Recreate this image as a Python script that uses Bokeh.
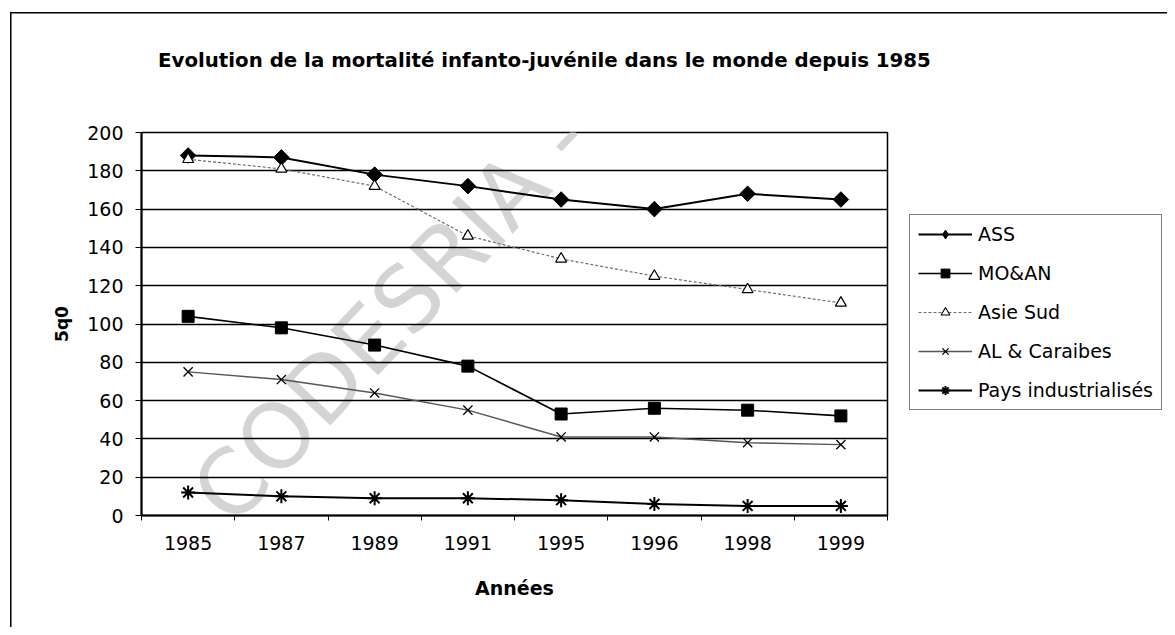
from bokeh.plotting import figure
from bokeh.models import Range1d, FixedTicker, Legend, LegendItem, Label, Div
from bokeh.layouts import row, column
from bokeh.embed import file_html
from bokeh.resources import INLINE

# ---- data ----
years = ["1985", "1987", "1989", "1991", "1995", "1996", "1998", "1999"]
ass = [188, 187, 178, 172, 165, 160, 168, 165]
mo_an = [104, 98, 89, 78, 53, 56, 55, 52]
asie_sud = [186, 181, 172, 146, 134, 125, 118, 111]
al_caraibes = [75, 71, 64, 55, 41, 41, 38, 37]
pays_ind = [12, 10, 9, 9, 8, 6, 5, 5]
y_ticks = list(range(0, 201, 20))
series_names = ["ASS", "MO&AN", "Asie Sud", "AL & Caraibes", "Pays industrialisés"]

title_text = "Evolution de la mortalité infanto-juvénile dans le monde depuis 1985"
FONT = "DejaVu Sans"

n = len(years)
xs = [i + 0.5 for i in range(n)]

TOTAL_W, TOTAL_H = 1167, 627
TOP_H = 112
MAIN_W = 889
MAIN_H = TOTAL_H - TOP_H

# ---- title block ----
title_div = Div(
    text=('<div style="position:absolute; left:158px; top:51px; white-space:nowrap; '
          "font-family:'DejaVu Sans'; font-weight:bold; font-size:19.8px; line-height:1; "
          'color:#000;">' + title_text + "</div>"),
    width=TOTAL_W, height=TOP_H, margin=0, styles={"position": "relative"})

# ---- main chart ----
p = figure(width=MAIN_W, height=MAIN_H, x_range=Range1d(0, n), y_range=Range1d(0, 200),
           output_backend="svg", toolbar_location=None,
           min_border_left=141, min_border_right=2, min_border_top=20, min_border_bottom=112,
           background_fill_color="white", border_fill_color=None)

p.xgrid.visible = False
p.ygrid.grid_line_color = "black"
p.ygrid.grid_line_width = 1.5
p.outline_line_color = "black"
p.outline_line_width = 1.5

p.yaxis.ticker = FixedTicker(ticks=y_ticks)
p.yaxis.axis_line_width = 2
p.yaxis.major_tick_out = 6
p.yaxis.major_tick_in = 0
p.yaxis.minor_tick_line_color = None
p.yaxis.major_label_text_font = FONT
p.yaxis.major_label_text_font_size = "19px"
p.yaxis.major_label_text_color = "black"
p.yaxis.major_label_standoff = 12
p.yaxis.axis_label = "5q0"
p.yaxis.axis_label_text_font = FONT
p.yaxis.axis_label_text_font_style = "bold"
p.yaxis.axis_label_text_font_size = "17px"
p.yaxis.axis_label_text_color = "black"
p.yaxis.axis_label_standoff = 12

p.xaxis.ticker = FixedTicker(ticks=xs, minor_ticks=list(range(n + 1)))
p.xaxis.major_label_overrides = {x: y for x, y in zip(xs, years)}
p.xaxis.major_tick_line_color = None
p.xaxis.minor_tick_line_color = "black"
p.xaxis.minor_tick_out = 5
p.xaxis.minor_tick_in = 0
p.xaxis.axis_line_width = 2
p.xaxis.major_label_text_font = FONT
p.xaxis.major_label_text_font_size = "19px"
p.xaxis.major_label_text_color = "black"
p.xaxis.major_label_standoff = 14
p.xaxis.axis_label = "Années"
p.xaxis.axis_label_text_font = FONT
p.xaxis.axis_label_text_font_style = "bold"
p.xaxis.axis_label_text_font_size = "19px"
p.xaxis.axis_label_text_color = "black"
p.xaxis.axis_label_standoff = 24

# watermark of the scanned page
p.add_layout(Label(x=106, y=-28, x_units="screen", y_units="screen",
                   text="CODESRIA - BIBLIOTHEQUE", angle=46.5, angle_units="deg",
                   text_font=FONT, text_font_size="90px", text_color="#d4d4d4", level="image"))

# ---- legend figure (same series, drawn off its visible range, only for the key) ----
q = figure(width=TOTAL_W - MAIN_W, height=MAIN_H, x_range=Range1d(-20, -19), y_range=Range1d(-20, -19),
           output_backend="svg", toolbar_location=None, x_axis_type=None, y_axis_type=None,
           min_border=0, min_border_left=0, min_border_right=0, min_border_top=0, min_border_bottom=0,
           outline_line_color=None, background_fill_color=None, border_fill_color=None)


def draw(fig, ys, line_kw, marker_kw):
    l = fig.line(xs, ys, **line_kw)
    m = fig.scatter(xs, ys, **marker_kw)
    return l, m


styles = [
    (ass, dict(line_color="black", line_width=2),
     dict(marker="square", angle=0.785398, size=11, fill_color="black", line_color="black"),
     dict(marker="diamond", size=14, fill_color="black", line_color="black")),
    (mo_an, dict(line_color="black", line_width=1.6),
     dict(marker="square", size=12, fill_color="black", line_color="black"), None),
    (asie_sud, dict(line_color="#6e6e6e", line_width=1.2, line_dash="3 2"),
     dict(marker="triangle", size=11, fill_color="white", line_color="black", line_width=1.2),
     dict(marker="triangle", size=9, fill_color="white", line_color="black", line_width=1.1)),
    (al_caraibes, dict(line_color="#555555", line_width=1.4),
     dict(marker="x", size=13, line_color="black", line_width=1.3), None),
    (pays_ind, dict(line_color="black", line_width=2),
     dict(marker="asterisk", size=14, line_color="black", line_width=2), None),
]

items = []
for name, (ys, lkw, mkw, key_kw) in zip(series_names, styles):
    draw(p, ys, lkw, mkw)
    ql, qm = draw(q, ys, lkw, key_kw or mkw)
    items.append(LegendItem(label=name, renderers=[ql, qm]))

# q's frame is aligned with p's frame (rows align plot frames): offsets are from its bottom-left
legend = Legend(items=items, location=(20, 105), glyph_width=54, glyph_height=22,
                label_height=22, label_standoff=6, spacing=17, padding=8, margin=0,
                label_text_font=FONT, label_text_font_size="19px", label_text_color="black",
                border_line_color="black", border_line_width=1.5,
                background_fill_color="white", background_fill_alpha=1)
q.add_layout(legend)

border_css = ("linear-gradient(#000,#000) 10px 12px / 1.5px 100% no-repeat, "
              "linear-gradient(#000,#000) 10px 12px / 100% 1.5px no-repeat, #fff")
layout = column(title_div, row(p, q, spacing=0), spacing=0, styles={"background": border_css})

open("out.html", "w").write(file_html(layout, INLINE))
